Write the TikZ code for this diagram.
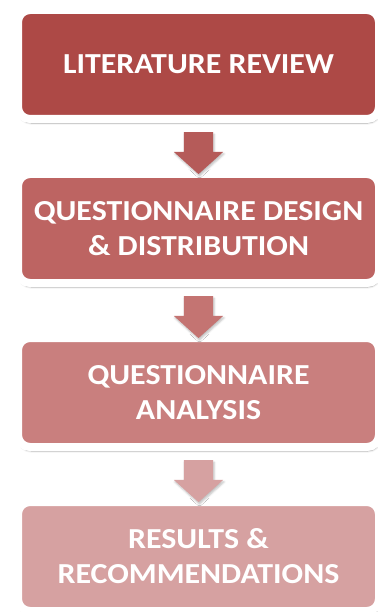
\documentclass[tikz,border=0pt]{standalone}
\usepackage{fontspec}
\setmainfont[FakeStretch=1.1]{Carlito}
\usetikzlibrary{positioning,shapes.arrows,shadows.blur}
\definecolor{stepA}{HTML}{AD4946}
\definecolor{stepB}{HTML}{BD6462}
\definecolor{stepC}{HTML}{C97F7E}
\definecolor{stepD}{HTML}{D6A1A1}
\tikzset{
  stage/.style={fill=#1, draw=white, line width=8pt, rounded corners=12pt,
    minimum width=361pt, minimum height=109pt, inner sep=0pt, outer sep=0pt,
    text=white, align=center, font=\fontsize{29}{35}\selectfont\bfseries,
    blur shadow={shadow xshift=1pt, shadow yshift=-4pt, shadow blur steps=6, shadow opacity=35}},
  flow/.style={single arrow, fill=#1, draw=none, rotate=-90,
    minimum height=42pt, inner xsep=0pt, inner ysep=14.5pt,
    single arrow head extend=10pt, single arrow tip angle=96,
    blur shadow={shadow xshift=1pt, shadow yshift=-2pt, shadow blur steps=4, shadow opacity=25}}
}
\begin{document}
\begin{tikzpicture}[x=1pt, y=-1pt, node distance=55pt]
  \useasboundingbox (0,0) rectangle (377,612);
  % the four steps, top to bottom
  \node[stage=stepA] (review) at (198.5,64.5) {LITERATURE REVIEW};
  \node[stage=stepB, below=of review] (design) {QUESTIONNAIRE DESIGN\\\& DISTRIBUTION};
  \node[stage=stepC, below=of design] (analysis) {QUESTIONNAIRE\\ANALYSIS};
  \node[stage=stepD, below=of analysis] (results) {RESULTS \&\\RECOMMENDATIONS};
  % block arrows in the gaps
  \path (review) -- (design) node[midway, flow=stepA!90!white] {};
  \path (design) -- (analysis) node[midway, flow=stepB!90!white] {};
  \path (analysis) -- (results) node[midway, flow=stepD] {};
\end{tikzpicture}
\end{document}
